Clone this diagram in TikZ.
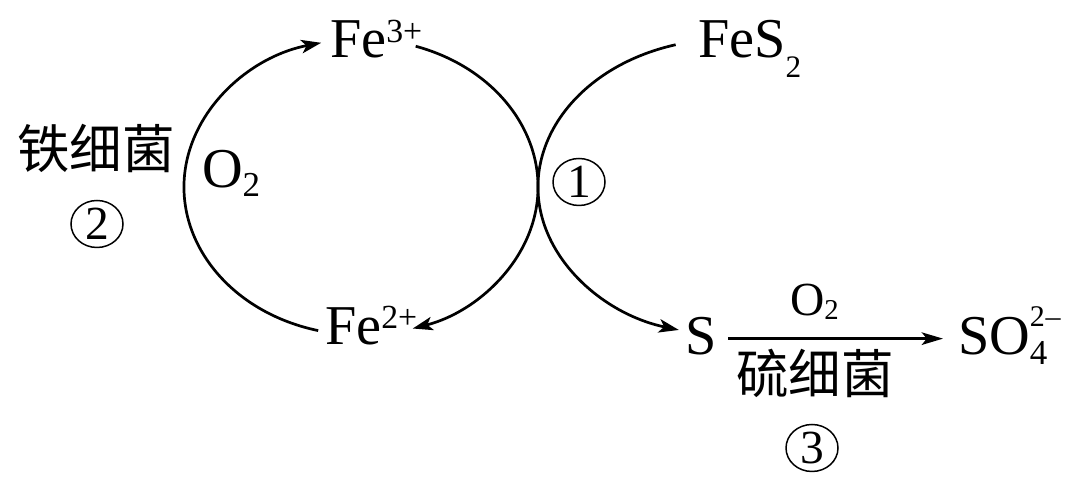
\documentclass[tikz,border=0pt]{standalone}
\usepackage{fontspec}
\setmainfont{Liberation Serif}
\newfontfamily\cjk{Noto Sans CJK SC}
\usetikzlibrary{arrows.meta,calc,shapes.geometric}
\newcommand{\supx}[3]{\raisebox{#2}{\fontsize{#1}{#1}\selectfont #3}}
\newcommand{\subx}[3]{\raisebox{-#2}{\fontsize{#1}{#1}\selectfont #3}}
\begin{document}
\begin{tikzpicture}[x=0.4pt,y=0.4pt,
  every node/.style={inner sep=0pt,outer sep=0pt},
  chem/.style={font=\fontsize{22.5}{26}\selectfont},
  cjklabel/.style={font=\cjk\fontsize{21}{24}\selectfont},
  circnum/.style={draw,ellipse,line width=0.6pt,minimum width=52*0.4pt,minimum height=47*0.4pt,font=\fontsize{19}{20}\selectfont},
  arr/.style={line width=1.08pt,-{Stealth[length=8pt,width=5.4pt,inset=2pt]}},
  sarr/.style={line width=1.08pt,-{Stealth[length=8.5pt,width=5pt,inset=2pt]}}]
\useasboundingbox (0,0) rectangle (1080,-484);
% nodes
\node[chem,anchor=base west] (fe3) at (330,-58) {Fe\supx{13.5}{6pt}{3+}};
\node[chem,anchor=base west] (fe2) at (325,-345) {Fe\supx{13.5}{6.5pt}{2+}};
\node[chem,anchor=base west] (fes2) at (698,-58) {FeS\subx{12.5}{8pt}{2}};
\node[chem,anchor=base west] (S) at (685,-355) {S};
\node[chem,anchor=base west] (SO) at (958,-355) {SO\rlap{\supx{12}{11.5pt}{2\kern0.3pt\textendash}}\subx{14}{4pt}{4}};
\node[chem,anchor=base west] (o2l) at (202,-188) {O\subx{14}{3.6pt}{2}};
\node[chem,font=\fontsize{19}{22}\selectfont,anchor=base west] (o2t) at (790,-316) {O\subx{11.5}{1.6pt}{2}};
\node[cjklabel] (tie) at (96,-148) {铁细菌};
\node[cjklabel] (liu) at (815,-373) {硫细菌};
\node[circnum] (n1) at (579,-182) {1};
\node[circnum] (n2) at (97,-224) {2};
\node[circnum] (n3) at (812,-448) {3};
% ellipse centres
\coordinate (cL) at (361,-187);
\coordinate (cR) at (728,-187);
\coordinate (l1) at ($(cL)+(256:177 and 148)$);
\coordinate (r1) at ($(cL)+(72:177 and 148)$);
\coordinate (q1) at ($(cR)+(106:190 and 148)$);
% connectors
\draw[arr] (l1) arc[start angle=256,end angle=103,x radius=177,y radius=148];
\draw[arr] (r1) arc[start angle=72,end angle=-73,x radius=177,y radius=148];
\draw[arr] (q1) arc[start angle=106,end angle=255,x radius=190,y radius=148];
\draw[sarr] ($(S.east)+(12,-2)$) -- ($(SO.west |- S.east)+(-15,-2)$);
\end{tikzpicture}
\end{document}
